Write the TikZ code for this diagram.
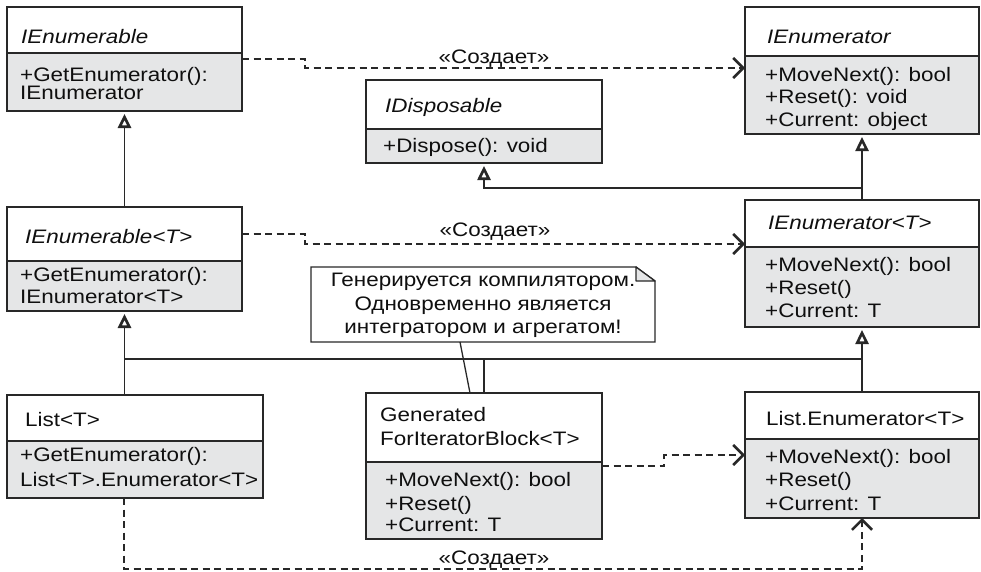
\documentclass[tikz,border=0pt]{standalone}
\usepackage{fontspec}
\setmainfont{Liberation Sans}[FakeStretch=1.15]
\usetikzlibrary{arrows.meta,calc}
\definecolor{cline}{RGB}{40,40,40}
\definecolor{cfill}{RGB}{229,230,231}
\definecolor{ctext}{RGB}{15,15,15}
\newcommand{\umlcls}[6]{% name, x1, y1, x2, ydiv, y2
  \node[headbox, minimum width={(#4-#2)*1pt}, minimum height={(#5-#3)*1pt}, anchor=north west] (#1) at (#2,#3) {};
  \node[bodybox, minimum width={(#4-#2)*1pt}, minimum height={(#6-#5)*1pt}, anchor=north west] (#1-b) at (#2,#5) {};
}
\newcommand{\tline}[4]{\node[txt] (#1) at (#2,#3) {#4};}
\tikzset{
  inhtip/.tip={Triangle[open, length=14pt, width=13pt, line width=2.6pt]},
  deptip/.tip={Straight Barb[length=10pt, width=20pt, line width=2.6pt]}
}
\begin{document}
\begin{tikzpicture}[x=1pt,y=-1pt,
  every node/.style={font=\fontsize{19.5}{22}\selectfont, text=ctext},
  headbox/.style={draw=cline, fill=white, line width=1.4pt, inner sep=0pt, outer sep=0pt},
  bodybox/.style={draw=cline, fill=cfill, line width=1.4pt, inner sep=0pt, outer sep=0pt},
  txt/.style={anchor=base west, inner sep=0pt},
  lbl/.style={anchor=base, inner sep=0pt},
  conn/.style={draw=cline, line width=1.3pt},
  inh/.style={conn, -inhtip, shorten >=3pt},
  dep/.style={conn, dash pattern=on 7pt off 4.5pt, -deptip}
]
\useasboundingbox (0,0) rectangle (981,571);
\fill[white] (0,0) rectangle (981,571);

% classes
\umlcls{ienum}{7}{7}{242}{53}{111}
\umlcls{idisp}{366}{80}{602}{129}{163}
\umlcls{ienumr}{745}{7}{979}{56}{134}
\umlcls{ienumT}{7}{207}{242}{261}{311}
\umlcls{ienumrT}{745}{200}{979}{247}{327}
\umlcls{list}{7}{395}{263}{441}{498}
\umlcls{gen}{366}{393}{602}{462}{539}
\umlcls{lenum}{745}{392}{979}{439}{518}

% texts
\tline{t1}{21}{43}{\itshape IEnumerable}
\tline{t1a}{20}{81.5}{+GetEnumerator():}
\tline{t1b}{20}{99.5}{IEnumerator}

\tline{t2}{385}{112}{\itshape IDisposable}
\tline{t2a}{383}{152}{+Dispose(): void}

\tline{t3}{767}{43}{\itshape IEnumerator}
\tline{t3a}{765}{81.5}{+MoveNext(): bool}
\tline{t3b}{765}{103.5}{+Reset(): void}
\tline{t3c}{765}{126.5}{+Current: object}

\tline{t4}{25}{243}{\itshape IEnumerable<T>}
\tline{t4a}{20}{281.5}{+GetEnumerator():}
\tline{t4b}{20}{303.5}{IEnumerator<T>}

\tline{t5}{768}{229.5}{\itshape IEnumerator<T>}
\tline{t5a}{765}{271.5}{+MoveNext(): bool}
\tline{t5b}{765}{294}{+Reset()}
\tline{t5c}{765}{317.5}{+Current: T}

\tline{t6}{25}{426}{List<T>}
\tline{t6a}{20}{461.5}{+GetEnumerator():}
\tline{t6b}{20}{486}{List<T>.Enumerator<T>}

\tline{t7}{380}{421.5}{Generated}
\tline{t7x}{380}{445}{ForIteratorBlock<T>}
\tline{t7a}{385}{486}{+MoveNext(): bool}
\tline{t7b}{385}{510}{+Reset()}
\tline{t7c}{385}{531.5}{+Current: T}

\tline{t8}{766}{425}{List.Enumerator<T>}
\tline{t8a}{765}{463}{+MoveNext(): bool}
\tline{t8b}{765}{486}{+Reset()}
\tline{t8c}{765}{510}{+Current: T}

% note
\node[inner sep=0pt, outer sep=0pt, minimum width=344pt, minimum height=75pt, anchor=north west] (note) at (311,267) {};
\draw[conn, fill=white] (note.north west) -- ($(note.north east)+(-19,0)$) -- ($(note.north east)+(0,14)$) -- (note.south east) -- (note.south west) -- cycle;
\draw[conn, fill=cfill, line join=round] ($(note.north east)+(-19,0)$) -- ($(note.north east)+(-19,14)$) -- ($(note.north east)+(0,14)$) -- cycle;
\node[lbl] (n1) at (483,286.5) {Генерируется компилятором.};
\node[lbl] (n2) at (483,310) {Одновременно является};
\node[lbl] (n3) at (483,333.5) {интегратором и агрегатом!};
\draw[conn] ($(note.south)+(-23,0)$) -- ($(gen.north)+(-14,0)$);

% inheritance
\coordinate (hl) at (0,359);
\draw[inh] (ienumT.north) -- (ienum-b.south);
\draw[inh] (ienumrT.north) -- (ienumr-b.south);
\draw[inh] ($(ienumrT.north)+(0,-12)$) -| (idisp-b.south);
\draw[inh] (ienumT-b.south |- list.north) -- (ienumT-b.south);
\draw[inh] (lenum.north) -- (ienumrT-b.south);
\draw[conn] (ienumT-b.south |- hl) -- (ienumrT-b.south |- hl);
\draw[conn] (gen.north) -- (gen.north |- hl);

% dependencies
\draw[dep] ($(ienum-b.north east)+(0,6)$) -- ++(63,0) -- ++(0,9) -- ($(ienumr-b.north west)+(0,12)$);
\node[lbl] (l1) at (494,63) {«Создает»};
\draw[dep] (ienumT.east) -- ++(63,0) -- ++(0,10) -- ($(ienumrT.south west)+(0,-3)$);
\node[lbl] (l2) at (495,236) {«Создает»};
\draw[dep] ($(gen-b.north east)+(0,4)$) -- ++(62,0) -- ++(0,-11) -- ($(lenum-b.north west)+(0,16)$);
\draw[dep] ($(list-b.south west)+(117,0)$) -- ++(0,71) -| (lenum-b.south);
\node[lbl] (l3) at (494,564) {«Создает»};
\end{tikzpicture}
\end{document}
